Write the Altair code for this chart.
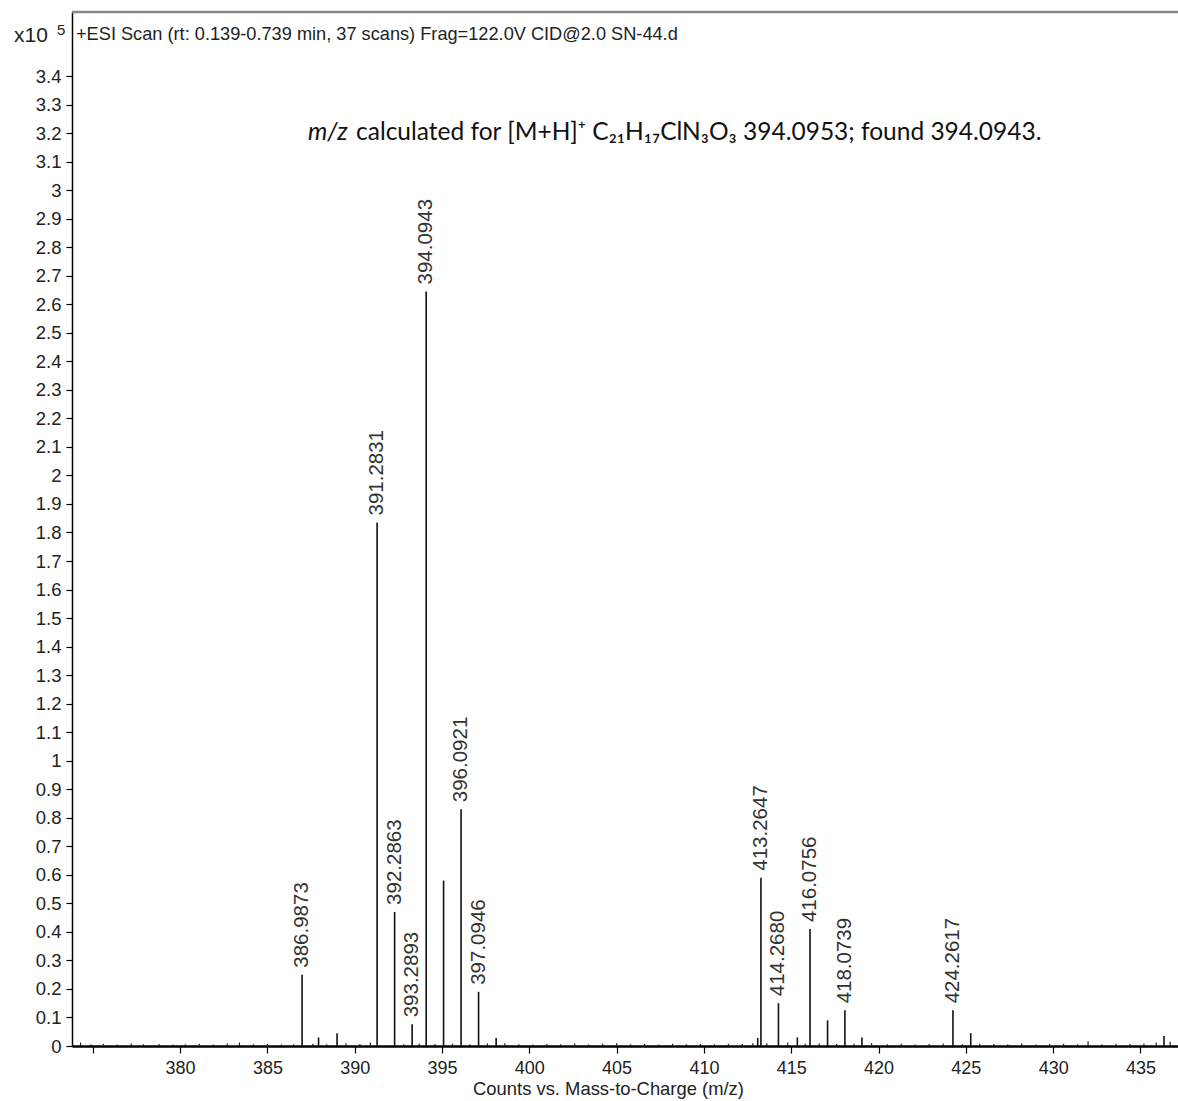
import altair as alt
import pandas as pd

# ---- data ----
peak_mz = [386.9873, 387.93, 388.99, 391.2831, 392.2863, 393.2893, 394.0943, 395.09,
           396.0921, 397.0946, 398.10, 413.08, 413.2647, 414.2680, 415.35, 416.0756,
           417.08, 418.0739, 419.05, 424.2617, 425.28, 436.35]
peak_counts = [0.25, 0.03, 0.045, 1.835, 0.47, 0.076, 2.645, 0.58,
               0.83, 0.19, 0.028, 0.028, 0.59, 0.15, 0.03, 0.41,
               0.09, 0.125, 0.03, 0.125, 0.045, 0.035]
peak_label = ["386.9873", "", "", "391.2831", "392.2863", "393.2893", "394.0943", "",
              "396.0921", "397.0946", "", "", "413.2647", "414.2680", "", "416.0756",
              "", "418.0739", "", "424.2617", "", ""]

noise_mz = [374.3, 374.9, 375.6, 376.4, 377.2, 377.9, 378.8, 379.6, 380.3, 381.1, 381.9,
            382.7, 383.4, 384.2, 385.0, 385.8, 386.5, 387.6, 388.4, 389.5, 390.3, 390.9,
            392.8, 393.7, 394.6, 395.6, 396.6, 397.6, 398.6, 399.4, 400.2, 401.0, 401.8,
            402.6, 403.4, 404.2, 405.0, 405.8, 406.6, 407.4, 408.2, 409.0, 409.8, 410.6,
            411.4, 412.2, 412.8, 413.6, 414.8, 415.8, 416.6, 417.6, 418.6, 419.6, 420.5,
            421.3, 422.1, 422.9, 423.7, 424.8, 425.8, 426.6, 427.4, 428.2, 429.0, 429.8,
            430.6, 431.4, 432.0, 432.8, 433.6, 434.4, 435.2, 435.9, 436.7]
noise_counts = [0.012, 0.006, 0.008, 0.005, 0.009, 0.006, 0.007, 0.005, 0.006, 0.008, 0.005,
                0.009, 0.012, 0.006, 0.007, 0.005, 0.006, 0.008, 0.006, 0.010, 0.007, 0.012,
                0.006, 0.008, 0.007, 0.008, 0.006, 0.009, 0.010, 0.006, 0.005, 0.007, 0.006,
                0.009, 0.005, 0.008, 0.010, 0.006, 0.007, 0.005, 0.008, 0.006, 0.007, 0.006,
                0.008, 0.007, 0.010, 0.010, 0.012, 0.008, 0.009, 0.007, 0.008, 0.010, 0.006,
                0.008, 0.005, 0.007, 0.009, 0.006, 0.008, 0.007, 0.006, 0.009, 0.005, 0.007,
                0.008, 0.006, 0.017, 0.006, 0.008, 0.007, 0.009, 0.012, 0.015]

x_ticks = [375, 380, 385, 390, 395, 400, 405, 410, 415, 420, 425, 430, 435]
y_ticks = [round(i * 0.1, 1) for i in range(35)]

header_text = ["+ESI Scan (rt: 0.139-0.739 min, 37 scans) Frag=122.0V CID@2.0 SN-44.d"]
note_italic = ["m/z"]
note_rest = ["calculated for [M+H]\u207a C\u2082\u2081H\u2081\u2087ClN\u2083O\u2083 394.0953; found 394.0943."]

X_DOMAIN = [373.81, 437.15]
Y_DOMAIN = [0, 3.6245]
W, H = 1106, 1034

peaks = pd.DataFrame({"mz": peak_mz, "counts": peak_counts, "label": peak_label})
noise = pd.DataFrame({"mz": noise_mz, "counts": noise_counts})

FONT = "Liberation Sans"

x_enc = alt.X("mz:Q",
              scale=alt.Scale(domain=X_DOMAIN, nice=False, zero=False),
              axis=alt.Axis(values=x_ticks,
                            labelExpr="datum.value == 375 ? '' : datum.label",
                            title="Counts vs. Mass-to-Charge (m/z)",
                            titleFont=FONT, titleFontSize=18.4, titleFontWeight="normal",
                            titleColor="#222", titleX=536, titleY=42,
                            titleBaseline="middle", titleAlign="center", titleAnchor="start",
                            labelFont=FONT, labelFontSize=18, labelColor="#222",
                            labelPadding=6, tickSize=7, labelFlush=False,
                            domainColor="#000", domainWidth=2.5, tickColor="#000",
                            tickWidth=1.2, grid=False))
y_enc = alt.Y("counts:Q",
              scale=alt.Scale(domain=Y_DOMAIN, nice=False, zero=True),
              axis=alt.Axis(values=y_ticks, format="~g", title=None,
                            labelFont=FONT, labelFontSize=18.5, labelColor="#222",
                            labelPadding=5, tickSize=6,
                            domainColor="#000", domainWidth=1.5, tickColor="#000",
                            tickWidth=1.2, grid=False))

noise_layer = alt.Chart(noise).mark_rule(color="#222", strokeWidth=1.2).encode(
    x=x_enc, y=y_enc, y2=alt.datum(0))

peak_layer = alt.Chart(peaks).mark_rule(color="#111", strokeWidth=1.6).encode(
    x=x_enc, y=y_enc, y2=alt.datum(0))

label_layer = alt.Chart(peaks).transform_filter("datum.label != ''").mark_text(
    angle=270, align="left", baseline="middle", dx=7,
    font=FONT, fontSize=20.5, color="#333").encode(
    x=x_enc, y=y_enc, text="label:N")

top_line = alt.Chart(pd.DataFrame({"a": [0]})).mark_rule(
    color="#888", strokeWidth=2.5).encode(
    x=alt.value(0), x2=alt.value(W), y=alt.value(0))

header = alt.Chart(pd.DataFrame({"t": header_text})).mark_text(
    align="left", baseline="middle", font=FONT, fontSize=18.2, color="#222").encode(
    x=alt.value(4), y=alt.value(23), text="t:N")

x10 = alt.Chart(pd.DataFrame({"t": ["x10"]})).mark_text(
    align="left", baseline="middle", font=FONT, fontSize=21, color="#222").encode(
    x=alt.value(-58), y=alt.value(24), text="t:N")

exp5 = alt.Chart(pd.DataFrame({"t": ["5"]})).mark_text(
    align="left", baseline="middle", font=FONT, fontSize=15, color="#222").encode(
    x=alt.value(-15), y=alt.value(18), text="t:N")

note1 = alt.Chart(pd.DataFrame({"t": note_italic})).mark_text(
    align="left", baseline="middle", font="Lato", fontSize=24.5, fontStyle="italic",
    color="#111").encode(x=alt.value(236), y=alt.value(121), text="t:N")

note2 = alt.Chart(pd.DataFrame({"t": note_rest})).mark_text(
    align="left", baseline="middle", font="Lato", fontSize=24.5, color="#111").encode(
    x=alt.value(284), y=alt.value(121), text="t:N")

chart = alt.layer(
    top_line, noise_layer, peak_layer, label_layer, header, x10, exp5, note1, note2
).properties(
    width=W, height=H,
    autosize=alt.AutoSizeParams(type="none"),
    padding={"left": 72, "top": 12, "right": 0, "bottom": 55},
).configure_view(stroke=None).configure(background="white")

chart.save("out.html", embed_options={"renderer": "svg", "actions": False})
